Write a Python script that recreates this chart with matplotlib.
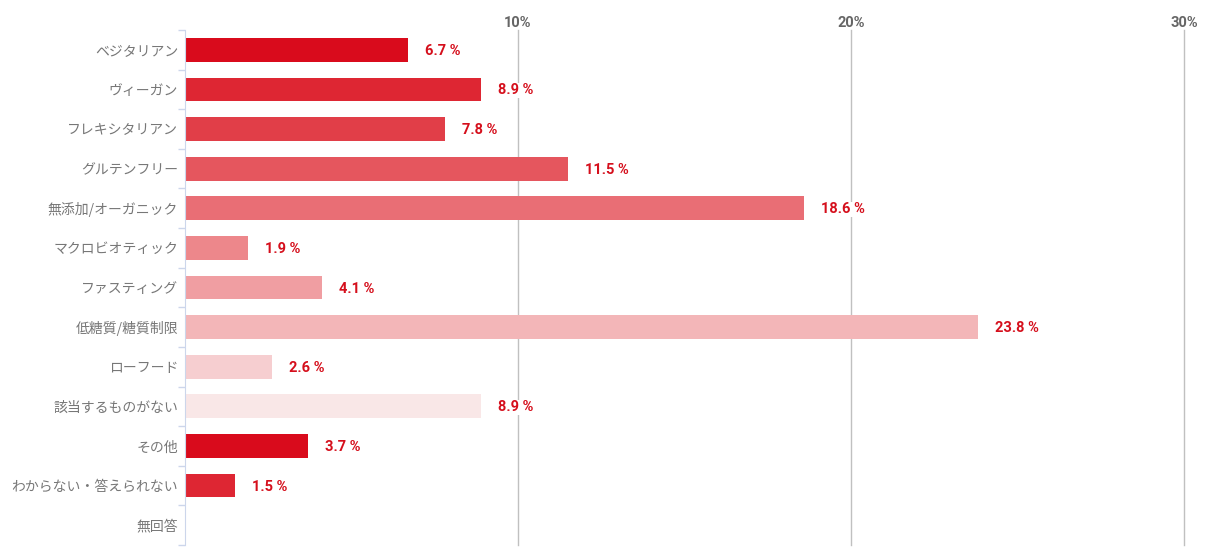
import matplotlib.pyplot as plt
from matplotlib import font_manager
from matplotlib.ticker import FixedLocator, NullFormatter
import numpy as np

categories = ['ベジタリアン', 'ヴィーガン', 'フレキシタリアン', 'グルテンフリー',
              '無添加/オーガニック', 'マクロビオティック', 'ファスティング',
              '低糖質/糖質制限', 'ローフード', '該当するものがない', 'その他',
              'わからない・答えられない', '無回答']
values = [6.7, 8.9, 7.8, 11.5, 18.6, 1.9, 4.1, 23.8, 2.6, 8.9, 3.7, 1.5, None]
palette = ['#d90b1c', '#de2633', '#e13e48', '#e5565e', '#e96e75',
           '#ed878b', '#f09ea2', '#f3b6b8', '#f6ced0', '#f9e7e7']
x_ticks = [10, 20, 30]

available = {f.name for f in font_manager.fontManager.ttflist}
narrow = ['Liberation Sans Narrow'] if 'Liberation Sans Narrow' in available else []
num_font = narrow + ['Roboto', 'DejaVu Sans']

fig = plt.figure(figsize=(12.05, 5.59), dpi=100)
ax = fig.add_axes([185 / 1205, 14 / 559, 999 / 1205, 515 / 559])

y = np.arange(len(categories))
for i, v in enumerate(values):
    if v is None:
        continue
    ax.barh(y[i], v, height=0.6, color=palette[i % len(palette)], zorder=2)
    ax.annotate(f'{v} %', xy=(v, y[i]), xytext=(17, -1), textcoords='offset pixels',
                ha='left', va='center', fontsize=10.5, fontweight='bold',
                color='#d50f1c', family=num_font, zorder=4,
                bbox=dict(boxstyle='square,pad=0.05', fc='white', ec='none'))

ax.set_xlim(0, 30)
ax.set_ylim(len(categories) - 0.5, -0.5)

ax.xaxis.tick_top()
ax.set_xticks(x_ticks)
ax.set_xticklabels([f'{t}%' for t in x_ticks], fontsize=10.5, fontweight='bold',
                   color='#666666', family=num_font)
ax.tick_params(axis='x', length=0, pad=0)
ax.grid(axis='x', color='#c0c0c0', linewidth=1, zorder=0)
for line in ax.get_xgridlines():
    line.set_clip_on(False)

ax.set_yticks(y)
ax.set_yticklabels(categories, fontsize=10, color='#777777',
                   family=['Noto Sans CJK JP', 'DejaVu Sans'])
ax.tick_params(axis='y', length=0, pad=5)
ax.yaxis.set_minor_locator(FixedLocator(np.arange(-0.5, len(categories), 1)))
ax.yaxis.set_minor_formatter(NullFormatter())
ax.tick_params(axis='y', which='minor', length=5, color='#ccd6eb', width=1)

for s in ['top', 'right', 'bottom']:
    ax.spines[s].set_visible(False)
ax.spines['left'].set_color('#ccd6eb')
ax.spines['left'].set_zorder(3)

fig.savefig('out.png', dpi=100)
